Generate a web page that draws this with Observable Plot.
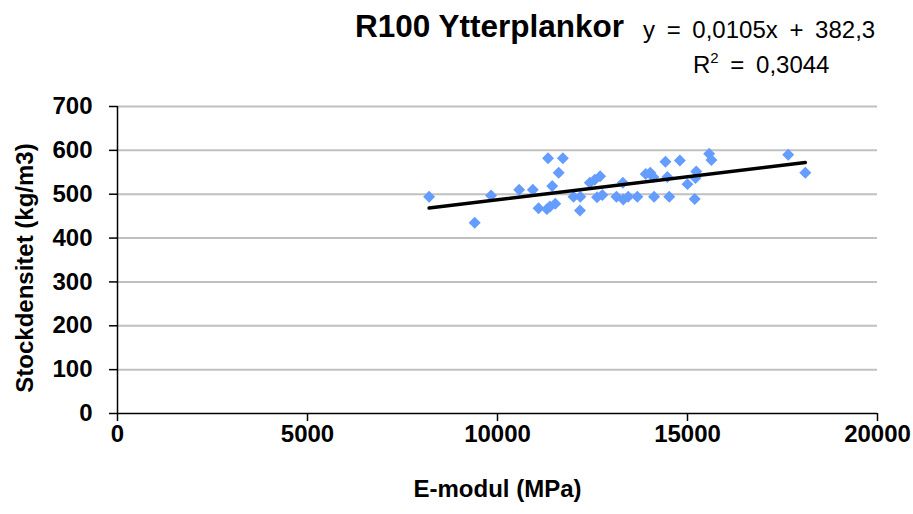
<!DOCTYPE html>
<html><head><meta charset="utf-8">
<script src="https://cdn.jsdelivr.net/npm/d3@7"></script>
<script src="https://cdn.jsdelivr.net/npm/@observablehq/plot@0.6"></script>
<style>
body{margin:0;background:#fff;}
#wrap{position:relative;width:913px;height:514px;overflow:hidden;background:#fff;}
.t{position:absolute;white-space:nowrap;color:#000;font-family:"Liberation Sans",Arial,sans-serif;line-height:1;}
#title{left:355px;top:11px;font-size:31.5px;font-weight:bold;}
#eq1{left:643px;top:18px;font-size:24px;word-spacing:5px;}
#eq2{left:693px;top:53px;font-size:24px;word-spacing:5px;}
#eq2 sup{font-size:15px;vertical-align:10px;line-height:0;}
#chart{position:absolute;left:0;top:0;}
</style></head><body>
<div id="wrap">
<div id="chart"></div>
<div class="t" id="title"></div>
<div class="t" id="eq1"></div>
<div class="t" id="eq2"></div>
</div>
<script>
// Data
const emodul = [8200, 9400, 9830, 10570, 10930, 11330, 11720, 11610, 11440, 11080, 11300, 11380, 11520,
  12000, 12180, 12170, 12430, 12560, 12700, 12620, 12760, 13130, 13300, 13310, 13440, 13680,
  13900, 14020, 14100, 14120, 14420, 14470, 14520, 14800, 15000, 15190, 15230, 15210, 15570, 15630,
  17650, 18100];
const density = [494, 435, 497, 510, 510, 582, 582, 549, 519, 468, 466, 472, 478,
  494, 494, 463, 526, 533, 541, 493, 498, 494, 526, 488, 494, 494,
  546, 549, 539, 494, 574, 539, 494, 577, 523, 489, 552, 537, 592, 578,
  590, 549];
const xTicks = [0, 5000, 10000, 15000, 20000];
const yTicks = [0, 100, 200, 300, 400, 500, 600, 700];
const trendSlope = 0.0105;
const trendIntercept = 382.3;
const titleText = "R100 Ytterplankor";
const eqText = "y = 0,0105x + 382,3";
const r2Text = "0,3044";
const xLabel = "E-modul (MPa)";
const yLabel = "Stockdensitet (kg/m3)";

document.getElementById("title").textContent = titleText;
document.getElementById("eq1").textContent = eqText;
document.getElementById("eq2").innerHTML = "R<sup>2</sup> = " + r2Text;

const points = emodul.map((x, i) => ({x, y: density[i]}));
const [xmin, xmax] = d3.extent(emodul);
const trend = [xmin, xmax].map(x => ({x, y: trendSlope * x + trendIntercept}));

const font = "Liberation Sans, Arial, sans-serif";
const chart = Plot.plot({
  width: 913,
  height: 514,
  marginLeft: 117,
  marginRight: 36,
  marginTop: 106,
  marginBottom: 101,
  style: {fontFamily: font, background: "#fff", overflow: "visible"},
  x: {domain: [0, 20000]},
  y: {domain: [0, 700]},
  marks: [
    Plot.gridY(yTicks.filter(d => d > 0), {stroke: "#c0c0c0", strokeOpacity: 1, strokeWidth: 2}),
    Plot.axisY(yTicks, {tickSize: 8, tickPadding: 17, fontSize: 24, fontWeight: "bold", label: null, stroke: "#000", strokeWidth: 1.5, tickFormat: d => String(d)}),
    Plot.axisX(xTicks, {tickSize: 8, tickPadding: 3, fontSize: 24, fontWeight: "bold", label: null, stroke: "#000", strokeWidth: 1.5, tickFormat: d => String(d)}),
    Plot.ruleY([0], {stroke: "#000", strokeWidth: 1.5}),
    Plot.ruleX([0], {stroke: "#000", strokeWidth: 1.5}),
    Plot.dot(points, {x: "x", y: "y", symbol: "diamond2", r: 5.4, fill: "#649cff", stroke: "none"}),
    Plot.line(trend, {x: "x", y: "y", stroke: "#000", strokeWidth: 3.5}),
    Plot.text([yLabel], {frameAnchor: "left", dx: -92, dy: 8, rotate: -90, textAnchor: "middle", fontSize: 24, fontWeight: "bold", fill: "#000"}),
    Plot.text([xLabel], {frameAnchor: "bottom", dy: 83, fontSize: 24, fontWeight: "bold", fill: "#000"})
  ]
});
document.getElementById("chart").appendChild(chart);
</script>
</body></html>
